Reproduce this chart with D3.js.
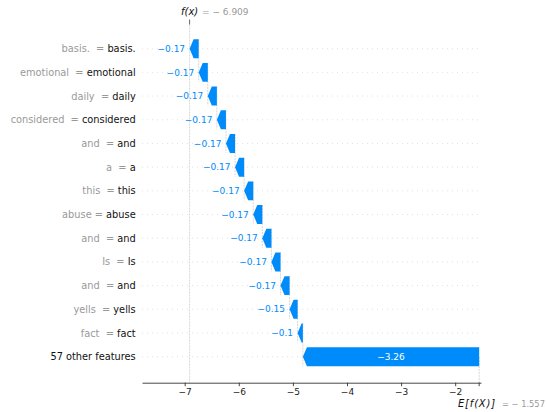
<!DOCTYPE html>
<html>
<head>
<meta charset="utf-8">
<script src="https://cdn.jsdelivr.net/npm/d3@7"></script>
<style>
  html, body { margin: 0; padding: 0; background: #fff; }
  svg { display: block; font-family: "DejaVu Sans", sans-serif; }
  text { white-space: pre; }
</style>
</head>
<body>
<svg id="chart" width="547" height="412"></svg>
<script>
// Token contributions (SHAP waterfall), top row first
const featureValues = ["basis. ", "emotional ", "daily ", "considered ", "and ", "a ", "this ", "abuse", "and ", "Is ", "and ", "yells ", "fact "];
const featureNames = ["basis.", "emotional", "daily", "considered", "and", "a", "this", "abuse", "and", "Is", "and", "yells", "fact"];
const shapValues = [-0.168, -0.168, -0.168, -0.168, -0.168, -0.168, -0.168, -0.168, -0.168, -0.168, -0.168, -0.148, -0.098];
const restLabel = "57 other features";
const restValue = -3.258;
const baseValue = -1.557;
const xTickValues = [-7, -6, -5, -4, -3, -2];

const BLUE = "#008bfb";
const minus = s => s.replace(/-/g, "\u2212");
// "%+0.02f" with trailing zeros stripped
function fmtShap(v) {
  let s = v.toFixed(2);
  if (s.includes(".")) s = s.replace(/0+$/, "").replace(/\.$/, "");
  return minus(s);
}

const allValues = shapValues.concat([restValue]);
const fx = baseValue + d3.sum(allValues);
const n = allValues.length;

// Bar chain: walk from the top row (ends at f(x)) downwards to E[f(X)]
const bars = [];
let loc = fx;
for (let i = 0; i < n; i++) {
  const v = allValues[i];
  const end = loc;
  const start = loc - v;
  bars.push({ i, v, start, end });
  loc = start;
}

const svg = d3.select("#chart");

const x = d3.scaleLinear().domain([-7.789, -1.523]).range([142, 481]);
const y = d3.scalePoint().domain(d3.range(n)).range([48.7, 356.7]);
const step = y.step();
const barH = 0.8 * step;
const axisY = 382.7;
const topY = 24.5;
const headLen = 4;

// Row guides
svg.append("g").selectAll("line").data(d3.range(n)).join("line")
  .attr("x1", x.range()[0]).attr("x2", x.range()[1])
  .attr("y1", d => y(d)).attr("y2", d => y(d))
  .attr("stroke", "#cccccc").attr("stroke-width", 0.6)
  .attr("stroke-dasharray", "1,4");

// Connectors at each bar's starting value
svg.append("g").selectAll("line").data(bars.slice(0, n - 1)).join("line")
  .attr("x1", d => x(d.start)).attr("x2", d => x(d.start))
  .attr("y1", d => y(d.i) - 0.4 * step)
  .attr("y2", d => y(d.i + 1) + 0.4 * step)
  .attr("stroke", "#bbbbbb").attr("stroke-width", 0.6)
  .attr("stroke-dasharray", "2,1");

// Model output and expected value markers
svg.append("line")
  .attr("x1", x(fx)).attr("x2", x(fx))
  .attr("y1", topY).attr("y2", axisY)
  .attr("stroke", "#bbbbbb").attr("stroke-width", 0.6)
  .attr("stroke-dasharray", "2,1");
svg.append("line")
  .attr("x1", x(baseValue)).attr("x2", x(baseValue))
  .attr("y1", axisY - (axisY - topY) / n).attr("y2", axisY)
  .attr("stroke", "#bbbbbb").attr("stroke-width", 0.6)
  .attr("stroke-dasharray", "2,1");

// Negative arrows
function arrowPath(d) {
  const xs = x(d.start), xe = x(d.end);
  const hl = Math.min(headLen, xs - xe);
  const yc = y(d.i), t = yc - barH / 2, b = yc + barH / 2;
  return `M${xs},${t}L${xe + hl},${t}L${xe},${yc}L${xe + hl},${b}L${xs},${b}Z`;
}
svg.append("g").selectAll("path").data(bars).join("path")
  .attr("d", arrowPath)
  .attr("fill", BLUE);

// Value labels: inside (white) when they fit, else left of the tip
svg.append("g").selectAll("text").data(bars).join("text")
  .each(function(d) {
    const w = x(d.start) - x(d.end);
    const inside = w > 40;
    d3.select(this)
      .attr("x", inside ? (x(d.start) + x(d.end)) / 2 : x(d.end) - 4.5)
      .attr("y", y(d.i))
      .attr("dy", "0.35em")
      .attr("text-anchor", inside ? "middle" : "end")
      .attr("fill", inside ? "#ffffff" : BLUE)
      .attr("font-size", 9)
      .text(fmtShap(d.v));
  });

// Row labels
const rowLabels = svg.append("g").selectAll("text").data(d3.range(n)).join("text")
  .attr("x", 135.7).attr("y", d => y(d)).attr("dy", "0.36em")
  .attr("text-anchor", "end").attr("font-size", 9.8);
rowLabels.each(function(i) {
  const t = d3.select(this);
  if (i < featureNames.length) {
    t.append("tspan").attr("fill", "#999999").text(featureValues[i] + " = ");
    t.append("tspan").attr("fill", "#111111").text(featureNames[i]);
  } else {
    t.append("tspan").attr("fill", "#111111").text(restLabel);
  }
});

// Bottom axis
const xAxis = d3.axisBottom(x).tickValues(xTickValues)
  .tickFormat(d => minus(String(d))).tickSize(3.5).tickSizeOuter(0).tickPadding(2);
const ax = svg.append("g").attr("transform", `translate(0,${axisY})`).call(xAxis);
ax.select(".domain").attr("stroke", "#333333").attr("stroke-width", 0.9);
ax.selectAll(".tick line").attr("stroke", "#333333").attr("stroke-width", 0.9);
ax.selectAll(".tick text").attr("fill", "#222222").attr("font-size", 9)
  .attr("font-family", "DejaVu Sans");
// Tick at the expected value
ax.append("line").attr("x1", x(baseValue)).attr("x2", x(baseValue))
  .attr("y1", 0).attr("y2", 3.5).attr("stroke", "#333333").attr("stroke-width", 0.9);

// E[f(X)] label
svg.append("text").attr("x", 458).attr("y", 407).attr("font-size", 10)
  .attr("font-style", "italic").attr("fill", "#111111")
  .attr("letter-spacing", 0.8)
  .text("E[f(X)]");
svg.append("text").attr("x", 502).attr("y", 407).attr("font-size", 8.3)
  .attr("fill", "#999999")
  .text("= " + minus("-") + " " + Math.abs(baseValue).toFixed(3));

// Top marker for f(x)
svg.append("line").attr("x1", x(fx)).attr("x2", x(fx))
  .attr("y1", 19.5).attr("y2", topY).attr("stroke", "#555555").attr("stroke-width", 0.9);
svg.append("text").attr("x", 181).attr("y", 14.5).attr("font-size", 10)
  .attr("font-style", "italic").attr("fill", "#111111")
  .text("f(x)");
svg.append("text").attr("x", 202).attr("y", 14.5).attr("font-size", 9)
  .attr("fill", "#999999")
  .text("= " + minus("-") + " " + Math.abs(fx).toFixed(3));
</script>
</body>
</html>
